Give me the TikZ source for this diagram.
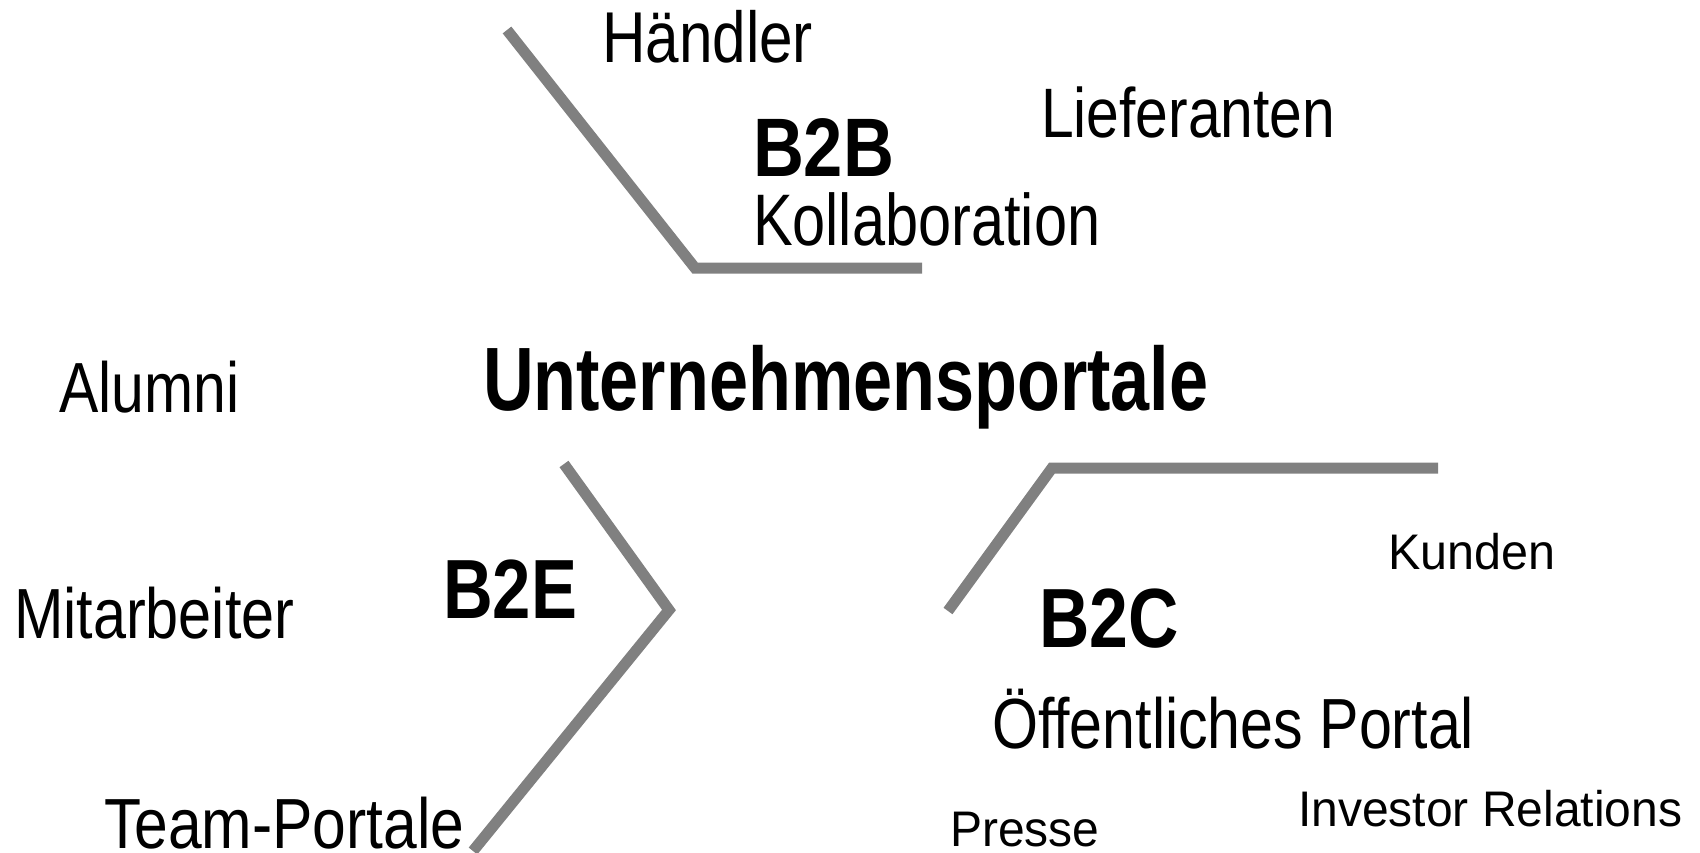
\documentclass[tikz,border=0pt]{standalone}
\usepackage{fontspec}
\setmainfont{Liberation Sans}
\usepackage{graphicx}
\definecolor{linegray}{HTML}{808080}
\newcommand{\txt}[3]{{\fontsize{#1pt}{#1pt}\selectfont\scalebox{#2}[1]{#3}}}
\newcommand{\txtb}[3]{{\fontsize{#1pt}{#1pt}\selectfont\bfseries\scalebox{#2}[1]{#3}}}
\tikzset{
  lbl/.style={anchor=base west, inner sep=0pt, outer sep=0pt, text=black},
  seg/.style={draw=linegray, line width=11pt, line join=miter, line cap=butt}
}
\begin{document}
\begin{tikzpicture}[x=1pt,y=-1pt]
\fill[white] (0,0) rectangle (1700,853);
\useasboundingbox (0,0) rectangle (1700,853);
% lines
\coordinate (b2bA) at (507,30);
\coordinate (b2bB) at (695,268);
\coordinate (b2bC) at (922,268);
\draw[seg] (b2bA) -- (b2bB) -- (b2bC);
\coordinate (b2eA) at (564,464);
\coordinate (b2eB) at (669,610);
\coordinate (b2eC) at (473,851);
\draw[seg] (b2eA) -- (b2eB) -- (b2eC);
\coordinate (b2cA) at (948,611);
\coordinate (b2cB) at (1052,468);
\coordinate (b2cC) at (1438,468);
\draw[seg] (b2cA) -- (b2cB) -- (b2cC);
% texts
\node[lbl] (haendler) at (602,63) {\txt{72}{0.837}{Händler}};
\node[lbl] (b2b) at (753,177) {\txtb{83}{0.85}{B2B}};
\node[lbl] (kollab) at (753,245) {\txt{73}{0.815}{Kollaboration}};
\node[lbl] (liefer) at (1041,138) {\txt{70}{0.84}{Lieferanten}};
\node[lbl] (alumni) at (59,412) {\txt{71}{0.83}{Alumni}};
\node[lbl] (up) at (483,410) {\txtb{90}{0.78}{Unternehmensportale}};
\node[lbl] (mitarb) at (14,638) {\txt{71}{0.836}{Mitarbeiter}};
\node[lbl] (b2e) at (443,618) {\txtb{84}{0.82}{B2E}};
\node[lbl] (team) at (104,848) {\txt{71}{0.853}{Team-Portale}};
\node[lbl] (kunden) at (1388,569) {\txt{50}{0.97}{Kunden}};
\node[lbl] (b2c) at (1039,647) {\txtb{84}{0.83}{B2C}};
\node[lbl] (oeff) at (992,748) {\txt{71}{0.833}{Öffentliches Portal}};
\node[lbl] (presse) at (950,846) {\txt{50}{0.96}{Presse}};
\node[lbl] (investor) at (1298,826) {\txt{50}{0.96}{Investor Relations}};
\end{tikzpicture}
\end{document}
